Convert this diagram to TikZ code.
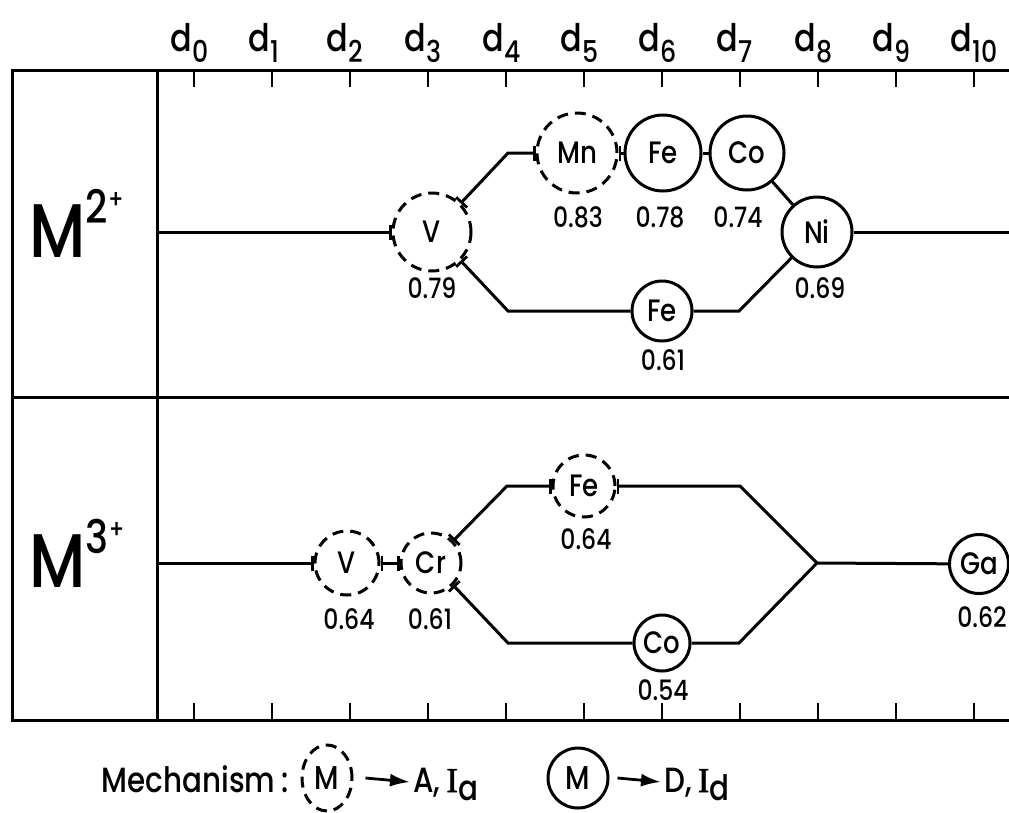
\documentclass[tikz,border=0pt]{standalone}
\usepackage{fontspec}
\setmainfont{Poppins}[FakeStretch=0.84,UprightFont={* Medium}]
\newfontfamily\serifI{Liberation Serif}[FakeBold=1.5]
\usetikzlibrary{arrows.meta,shapes.geometric}
\begin{document}
\begin{tikzpicture}[x=1pt,y=-1pt,line width=3pt,
  ion/.style={circle,draw,inner sep=0pt,font=\fontsize{31}{31}\selectfont},
  dion/.style={ion,dash pattern=on 11pt off 7pt},
  num/.style={inner sep=0pt,font=\fontsize{28}{28}\selectfont},
  dlab/.style={anchor=base west,inner sep=0pt,font=\fontsize{38}{38}\selectfont},
  frame/.style={line width=3pt},
  tick/.style={line width=2.8pt},
  barend/.style={-{Bar[width=15pt,line width=2.8pt]}},
  barstart/.style={{Bar[width=15pt,line width=2.8pt]}-},
  barboth/.style={{Bar[width=15pt,line width=2.8pt]}-{Bar[width=15pt,line width=2.8pt]}},
  legarrow/.style={-{Latex[length=20pt,width=13pt]},line width=2.8pt},
  legtext/.style={anchor=base west,inner sep=0pt,font=\fontsize{35}{35}\selectfont}]
\useasboundingbox (0,0) rectangle (1009,812);

% frame
\coordinate (TL) at (12,70);
\coordinate (TR) at (1012,70);
\coordinate (BL) at (12,720);
\coordinate (BR) at (1012,720);
\coordinate (ML) at (12,397);
\coordinate (MR) at (1012,397);
\coordinate (DT) at (157,70);
\coordinate (DB) at (157,720);
\draw[frame] (TR) -- (TL) -- (BL) -- (BR);
\draw[frame] (ML) -- (MR);
\draw[frame] (DT) -- (DB);

% ticks and d labels
\foreach \i in {0,...,10}{
  \pgfmathsetmacro{\xx}{194+78*\i}
  \draw[tick] (\xx,70) -- (\xx,87);
  \draw[tick] (\xx,720) -- (\xx,703);
  \node[dlab] (d\i) at (\xx-3,51) {\llap{d}\lower11pt\hbox{\fontsize{30}{30}\selectfont\i}};
}

% row labels
\node[anchor=base west,inner sep=0pt] (m2) at (28,257)
  {\fontsize{76}{76}\selectfont M\raisebox{34pt}{\fontsize{46}{46}\selectfont 2\raisebox{15pt}{\fontsize{26}{26}\selectfont +}}};
\node[anchor=base west,inner sep=0pt] (m3) at (28,587)
  {\fontsize{76}{76}\selectfont M\raisebox{34pt}{\fontsize{46}{46}\selectfont 3\raisebox{15pt}{\fontsize{26}{26}\selectfont +}}};

% ---------- M2+ row ----------
\coordinate (L1) at (157,232);
\coordinate (R1) at (1012,232);
\coordinate (a1) at (508,153);
\coordinate (b1) at (508,311);
\coordinate (b2) at (739,311);
\node[dion,minimum size=78pt] (V1) at (432,232) {V};
\node[dion,minimum size=80pt] (Mn) at (577,153) {Mn};
\node[ion,minimum size=76pt] (Fe1) at (663,153) {Fe};
\node[ion,minimum size=74pt] (Co1) at (747,153) {Co};
\node[ion,minimum size=70pt] (Ni) at (817,232) {Ni};
\node[ion,minimum size=60pt] (Fe2) at (662,311) {Fe};

\draw[barend] (L1) -- (V1);
\draw[barboth] (V1.45) -- (a1) -- (Mn);
\draw[barstart] (Mn) -- (Fe1);
\draw (Fe1) -- (Co1);
\draw (Co1) -- (Ni);
\draw (Ni) -- (R1);
\draw[barstart] (V1.-45) -- (b1) -- (Fe2);
\draw (Fe2) -- (b2) -- (Ni);

\node[num] (nV1) at (432,288) {0.79};
\node[num] (nMn) at (578,217) {0.83};
\node[num] (nFe1) at (660,217) {0.78};
\node[num] (nCo1) at (738,217) {0.74};
\node[num] (nNi) at (820,288) {0.69};
\node[num] (nFe2) at (663,360) {0.61};

% ---------- M3+ row ----------
\coordinate (L2) at (157,563);
\coordinate (J) at (817,563);
\coordinate (c1) at (507,486);
\coordinate (c2) at (740,486);
\coordinate (e1) at (508,643);
\coordinate (e2) at (739,643);
\node[dion,minimum size=64pt] (V2) at (347,563) {V};
\node[dion,minimum size=60pt] (Cr) at (431,563) {Cr};
\node[dion,minimum size=62pt] (Fe3) at (584,486) {Fe};
\node[ion,minimum size=56pt] (Co2) at (662,643) {Co};
\node[ion,minimum size=59pt] (Ga) at (979,564) {Ga};

\draw[barend] (L2) -- (V2);
\draw[barboth] (V2) -- (Cr);
\draw[barboth] (Cr.45) -- (c1) -- (Fe3);
\draw[barstart] (Fe3) -- (c2) -- (J);
\draw[barstart] (Cr.-45) -- (e1) -- (Co2);
\draw (Co2) -- (e2) -- (J);
\draw (J) -- (Ga);

\node[num] (nV2) at (349,619) {0.64};
\node[num] (nCr) at (430,619) {0.61};
\node[num] (nFe3) at (586,539) {0.64};
\node[num] (nCo2) at (663,690) {0.54};
\node[num] (nGa) at (982,617) {0.62};

% ---------- legend ----------
\node[legtext] (mech) at (100,792) {Mechanism\,:};
\node[draw,ellipse,dash pattern=on 11pt off 7pt,inner sep=0pt,minimum width=50pt,minimum height=66pt,font=\fontsize{33}{33}\selectfont] (lmA) at (327,778) {M};
\node[legtext] (tA) at (412,792) {A,\,{\serifI I}\lower8pt\hbox{a}};
\draw[legarrow] ([xshift=12pt]lmA.east) -- ([xshift=-2pt]tA.west |- 0,782);
\node[draw,circle,inner sep=0pt,minimum size=60pt,font=\fontsize{33}{33}\selectfont] (lmD) at (578,778) {M};
\node[legtext] (tD) at (663,792) {D,\,{\serifI I}\lower8pt\hbox{d}};
\draw[legarrow] ([xshift=8pt]lmD.east) -- ([xshift=-2pt]tD.west |- 0,782);
\end{tikzpicture}
\end{document}
